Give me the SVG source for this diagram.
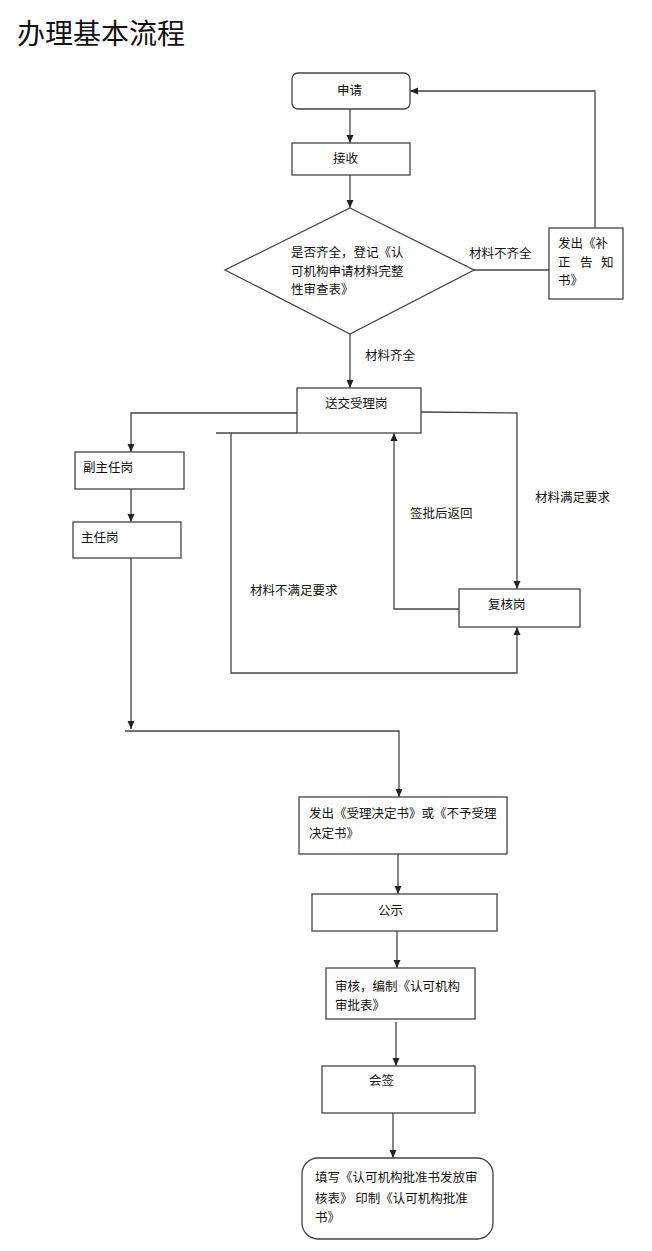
<svg xmlns="http://www.w3.org/2000/svg" width="652" height="1251" viewBox="0 0 652 1251">
<defs>
<marker id="ah" markerUnits="userSpaceOnUse" markerWidth="8" markerHeight="8" refX="8" refY="4" orient="auto">
<path d="M0,0.5 L8,4 L0,7.5 z" fill="#222"/>
</marker>
<style>
.box{fill:#fff;stroke:#444;stroke-width:1.3}
.ln{fill:none;stroke:#444;stroke-width:1.3}
.t{font-family:"Noto Sans CJK SC","Noto Sans",sans-serif;font-size:12.5px;fill:#111}
.title{font-family:"Noto Sans CJK SC","Noto Sans",sans-serif;font-size:28px;fill:#111}
</style>
</defs>
<rect width="652" height="1251" fill="#fff"/>
<text class="title" x="17" y="44">办理基本流程</text>

<g id="connectors">
<line class="ln" x1="350" y1="109" x2="350" y2="143" marker-end="url(#ah)"/>
<line class="ln" x1="350" y1="175" x2="350" y2="208" marker-end="url(#ah)"/>
<line class="ln" x1="350" y1="334" x2="350" y2="388" marker-end="url(#ah)"/>
<line class="ln" x1="474" y1="270" x2="549" y2="270"/>
<polyline class="ln" points="595,228 595,91 410,91" marker-end="url(#ah)"/>
<polyline class="ln" points="297,413 131,413 131,452" marker-end="url(#ah)"/>
<line class="ln" x1="131" y1="489" x2="131" y2="522" marker-end="url(#ah)"/>
<line class="ln" x1="131" y1="558" x2="131" y2="729" marker-end="url(#ah)"/>
<polyline class="ln" points="125,731 399,731 399,797" marker-end="url(#ah)"/>
<polyline class="ln" points="421,412 517,413 517,589" marker-end="url(#ah)"/>
<line class="ln" x1="216" y1="433" x2="297" y2="433"/>
<polyline class="ln" points="231,433 231,673 517,673 517,627" marker-end="url(#ah)"/>
<polyline class="ln" points="459,609 394,609 394,433" marker-end="url(#ah)"/>
<line class="ln" x1="398" y1="854" x2="398" y2="894" marker-end="url(#ah)"/>
<line class="ln" x1="397" y1="931" x2="397" y2="968" marker-end="url(#ah)"/>
<line class="ln" x1="396" y1="1022" x2="396" y2="1066" marker-end="url(#ah)"/>
<line class="ln" x1="393" y1="1113" x2="393" y2="1158" marker-end="url(#ah)"/>
<text class="t" x="469" y="258">材料不齐全</text>
<text class="t" x="365" y="360">材料齐全</text>
<text class="t" x="535" y="502">材料满足要求</text>
<text class="t" x="410" y="518">签批后返回</text>
<text class="t" x="250" y="595">材料不满足要求</text>
</g>

<g id="n-shenqing">
<rect class="box" x="292" y="73" width="118" height="36" rx="6"/>
<text class="t" x="337" y="95">申请</text>
</g>
<g id="n-jieshou">
<rect class="box" x="292" y="143" width="118" height="32"/>
<text class="t" x="333" y="163">接收</text>
</g>
<g id="n-decision">
<polygon class="box" points="350,208 474,270 350,334 225,270"/>
<text class="t" x="291" y="257">是否齐全，登记《认</text>
<text class="t" x="291" y="276">可机构申请材料完整</text>
<text class="t" x="291" y="294">性审查表》</text>
</g>
<g id="n-buzheng">
<rect class="box" x="549" y="228" width="74" height="71"/>
<text class="t" x="558" y="248">发出《补</text>
<text class="t" x="558 570 580 591 601" y="267">正 告 知</text>
<text class="t" x="558" y="285">书》</text>
</g>
<g id="n-songjiao">
<rect class="box" x="297" y="388" width="124" height="45"/>
<text class="t" x="325" y="408">送交受理岗</text>
</g>
<g id="n-fuzhuren">
<rect class="box" x="75" y="452" width="109" height="37"/>
<text class="t" x="83" y="472">副主任岗</text>
</g>
<g id="n-zhuren">
<rect class="box" x="73" y="522" width="108" height="36"/>
<text class="t" x="81" y="542">主任岗</text>
</g>
<g id="n-fuhe">
<rect class="box" x="459" y="589" width="121" height="38"/>
<text class="t" x="488" y="609">复核岗</text>
</g>
<g id="n-jueding">
<rect class="box" x="299" y="797" width="208" height="57"/>
<text class="t" x="309" y="818">发出《受理决定书》或《不予受理</text>
<text class="t" x="309" y="838">决定书》</text>
</g>
<g id="n-gongshi">
<rect class="box" x="312" y="894" width="185" height="37"/>
<text class="t" x="378" y="915">公示</text>
</g>
<g id="n-shenhe">
<rect class="box" x="326" y="968" width="149" height="51"/>
<text class="t" x="335" y="991">审核，编制《认可机构</text>
<text class="t" x="335" y="1010">审批表》</text>
</g>
<g id="n-huiqian">
<rect class="box" x="322" y="1066" width="153" height="47"/>
<text class="t" x="369" y="1085">会签</text>
</g>
<g id="n-tianxie">
<rect class="box" x="302" y="1158" width="191" height="81" rx="16"/>
<text class="t" x="315" y="1182">填写《认可机构批准书发放审</text>
<text class="t" x="315" y="1203">核表》 印制《认可机构批准</text>
<text class="t" x="315" y="1222">书》</text>
</g>
</svg>
